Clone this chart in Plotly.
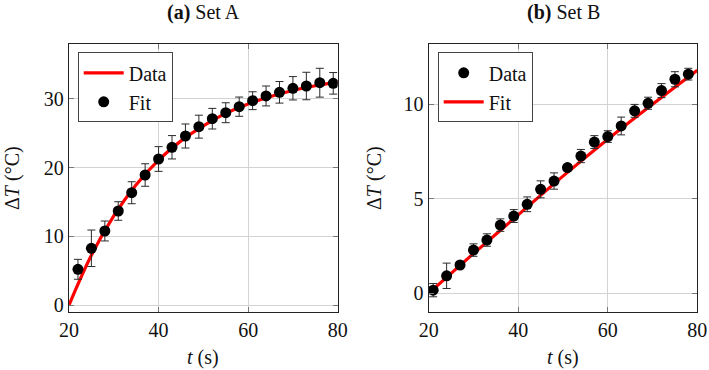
import plotly.graph_objects as go

# ---- Set A ----
tA = [22, 25, 28, 31, 34, 37, 40, 43, 46, 49, 52, 55, 58, 61, 64, 67, 70, 73, 76, 79]
yA = [5.2, 8.26, 10.78, 13.69, 16.35, 18.93, 21.26, 22.97, 24.61, 25.97,
      27.13, 28.0, 28.88, 29.75, 30.44, 30.97, 31.56, 31.89, 32.37, 32.28]
eA = [1.45, 2.66, 1.45, 1.35, 1.6, 1.64, 1.8, 1.7, 1.75, 1.67,
      1.5, 1.45, 1.4, 1.3, 1.45, 1.57, 1.7, 2.0, 2.1, 1.57]
fit_tA = [20, 25, 30, 35, 40, 45, 50, 55, 60, 65, 70, 75, 80]
fit_yA = [0.0, 7.25, 12.97, 17.5, 21.1, 23.9, 26.1, 27.9, 29.27, 30.37, 31.24, 31.92, 32.46]

# ---- Set B ----
tB = [21, 24, 27, 30, 33, 36, 39, 42, 45, 48, 51, 54, 57, 60, 63, 66, 69, 72, 75, 78]
yB = [0.17, 0.93, 1.5, 2.29, 2.82, 3.61, 4.09, 4.71, 5.5, 5.94,
      6.65, 7.26, 8.0, 8.29, 8.85, 9.65, 10.05, 10.72, 11.32, 11.59]
eB = [0.35, 0.67, 0.15, 0.33, 0.33, 0.33, 0.34, 0.39, 0.45, 0.43,
      0.15, 0.35, 0.34, 0.31, 0.47, 0.34, 0.32, 0.37, 0.4, 0.31]
fit_tB = [20, 30, 40, 50, 60, 70, 80]
fit_yB = [0.0, 2.1, 4.15, 6.2, 8.15, 10.0, 11.8]

titles = ["<b>(a)</b> Set A", "<b>(b)</b> Set B"]
xticks = [20, 40, 60, 80]
yticksA = [0, 10, 20, 30]
yticksB = [0, 5, 10]

FONT = "Liberation Serif"
FS = 20
LFS = 20
RED = "#ff0000"
INK = "#111111"

fig = go.Figure()

# Panel A: line first ("Data"), markers ("Fit")
fig.add_trace(go.Scatter(x=fit_tA, y=fit_yA, mode="lines", name="Data",
                         line=dict(color=RED, width=3.2, shape="spline"),
                         xaxis="x", yaxis="y", legend="legend"))
fig.add_trace(go.Scatter(x=tA, y=yA, mode="markers", name="Fit",
                         marker=dict(color="black", size=11),
                         error_y=dict(type="data", array=eA, color="#2a2a2a", thickness=1, width=4),
                         xaxis="x", yaxis="y", legend="legend"))

# Panel B: line drawn under markers, but markers listed first in legend
fig.add_trace(go.Scatter(x=fit_tB, y=fit_yB, mode="lines", name="Fit",
                         line=dict(color=RED, width=3.2, shape="spline"),
                         xaxis="x2", yaxis="y2", legend="legend2", legendrank=2))
fig.add_trace(go.Scatter(x=tB, y=yB, mode="markers", name="Data",
                         marker=dict(color="black", size=11),
                         error_y=dict(type="data", array=eB, color="#2a2a2a", thickness=1, width=4),
                         xaxis="x2", yaxis="y2", legend="legend2", legendrank=1))

W, H = 709, 370
xdomA = [69 / W, 337.7 / W]
xdomB = [428.7 / W, 697.3 / W]
ydom = [(H - 312.3) / H, (H - 43.7) / H]

axis_common = dict(showgrid=True, gridcolor="#d3d3d3", gridwidth=1,
                   showline=True, linecolor="#222222", linewidth=1.3, mirror="ticks",
                   ticks="inside", ticklen=5, tickcolor="#777777", tickwidth=1,
                   zeroline=False, automargin=False,
                   tickfont=dict(family=FONT, size=FS, color=INK))

legend_common = dict(font=dict(family=FONT, size=LFS, color=INK),
                     bgcolor="white", bordercolor="#444444", borderwidth=1,
                     xanchor="left", yanchor="top", tracegroupgap=0, itemwidth=40)

fig.update_layout(
    width=W, height=H, margin=dict(l=0, r=0, t=0, b=0, autoexpand=False),
    paper_bgcolor="white", plot_bgcolor="white",
    font=dict(family=FONT, size=FS, color=INK),
    xaxis=dict(domain=xdomA, range=[20, 80], tickvals=xticks, anchor="y", **axis_common),
    yaxis=dict(domain=ydom, range=[-1.06, 38.05], tickvals=yticksA, anchor="x", **axis_common),
    xaxis2=dict(domain=xdomB, range=[20, 80], tickvals=xticks, anchor="y2", **axis_common),
    yaxis2=dict(domain=ydom, range=[-1.0, 13.2], tickvals=yticksB, anchor="x2", **axis_common),
    legend=dict(x=77.7 / W, y=(H - 52.3) / H, **legend_common),
    legend2=dict(x=437.7 / W, y=(H - 52.3) / H, **legend_common),
    showlegend=True,
)

annotations = [
    dict(text=titles[0], x=(xdomA[0] + xdomA[1]) / 2, y=(H - 13) / H, yanchor="middle"),
    dict(text=titles[1], x=(xdomB[0] + xdomB[1]) / 2, y=(H - 13) / H, yanchor="middle"),
    dict(text="<i>t</i> (s)", x=(xdomA[0] + xdomA[1]) / 2, y=(H - 357) / H, yanchor="middle"),
    dict(text="<i>t</i> (s)", x=(xdomB[0] + xdomB[1]) / 2, y=(H - 357) / H, yanchor="middle"),
    dict(text="Δ<i>T</i> (°C)", x=12 / W, y=(H - 178) / H, textangle=-90, yanchor="middle"),
    dict(text="Δ<i>T</i> (°C)", x=374 / W, y=(H - 178) / H, textangle=-90, yanchor="middle"),
]
for a in annotations:
    fig.add_annotation(xref="paper", yref="paper", showarrow=False, xanchor="center",
                       font=dict(family=FONT, size=FS, color=INK), **a)

fig.write_html("out.html", config={"displayModeBar": False},
               post_script="document.body.style.margin='0';document.body.style.overflow='hidden';")
